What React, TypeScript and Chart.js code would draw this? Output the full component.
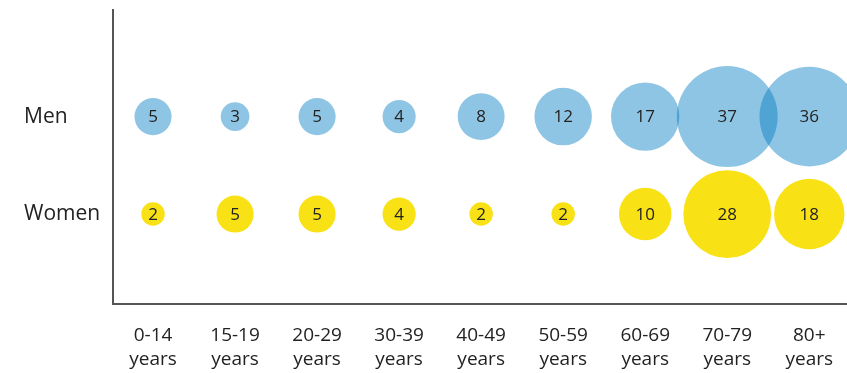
import React, { useEffect, useRef } from "react";
import { Chart, registerables } from "chart.js";

Chart.register(...registerables);

const ageGroups = ["0-14", "15-19", "20-29", "30-39", "40-49", "50-59", "60-69", "70-79", "80+"];
const rowLabels = ["Women", "Men"];
const menValues = [5, 3, 5, 4, 8, 12, 17, 37, 36];
const womenValues = [2, 5, 5, 4, 2, 2, 10, 28, 18];

const FONT = "'Open Sans', sans-serif";

const valueLabels = {
  id: "valueLabels",
  afterDatasetsDraw(chart: any) {
    const ctx = chart.ctx;
    ctx.save();
    ctx.font = `17px ${FONT}`;
    ctx.fillStyle = "#222";
    ctx.textAlign = "center";
    ctx.textBaseline = "middle";
    chart.data.datasets.forEach((ds: any, di: number) => {
      const meta = chart.getDatasetMeta(di);
      meta.data.forEach((el: any, i: number) => {
        ctx.fillText(String(ds.data[i].v), el.x, el.y + 1);
      });
    });
    ctx.restore();
  },
};

export default function App() {
  const ref = useRef<HTMLCanvasElement>(null);
  useEffect(() => {
    const radius = (c: any) => 8.3 * Math.sqrt(c.raw ? c.raw.v : 0);
    const chart = new Chart(ref.current!, {
      type: "bubble",
      data: {
        datasets: [
          {
            label: "Men",
            data: menValues.map((v, i) => ({ x: i, y: 1, v })),
            backgroundColor: "rgba(0,122,194,0.44)",
            borderWidth: 0,
            radius,
          } as any,
          {
            label: "Women",
            data: womenValues.map((v, i) => ({ x: i, y: 0, v })),
            backgroundColor: "rgba(247,222,0,0.92)",
            borderWidth: 0,
            radius,
          } as any,
        ],
      },
      options: {
        animation: false,
        responsive: true,
        maintainAspectRatio: false,
        events: [],
        layout: { autoPadding: false, padding: { left: 24, top: 10, right: 0, bottom: 0 } },
        plugins: { legend: { display: false }, tooltip: { enabled: false } },
        scales: {
          x: {
            type: "linear",
            min: -0.488,
            max: 8.46,
            afterBuildTicks: (s: any) => {
              s.ticks = ageGroups.map((_, i) => ({ value: i }));
            },
            afterFit: (s: any) => {
              s.height = 69;
              s.paddingLeft = 0;
              s.paddingRight = 0;
            },
            grid: { display: false },
            border: { display: true, color: "#555", width: 2 },
            ticks: {
              autoSkip: false,
              maxRotation: 0,
              padding: 11,
              color: "#222",
              font: { family: FONT, size: 19, lineHeight: 1.3 },
              callback: (v: any) => [ageGroups[v], "years"],
            },
          },
          y: {
            type: "linear",
            min: -0.923,
            max: 2.094,
            afterBuildTicks: (s: any) => {
              s.ticks = rowLabels.map((_, i) => ({ value: i }));
            },
            afterFit: (s: any) => {
              s.width = 89;
              s.paddingTop = 0;
              s.paddingBottom = 0;
            },
            grid: { display: false },
            border: { display: true, color: "#555", width: 2 },
            ticks: {
              crossAlign: "far",
              color: "#222",
              font: { family: FONT, size: 21 },
              callback: (v: any) => rowLabels[v],
            },
          },
        },
      },
      plugins: [valueLabels],
    });
    return () => chart.destroy();
  }, []);
  return (
    <div style={{ position: "fixed", left: 0, top: 0, width: 847, height: 373, background: "#fff" }}>
      <canvas ref={ref} />
    </div>
  );
}
